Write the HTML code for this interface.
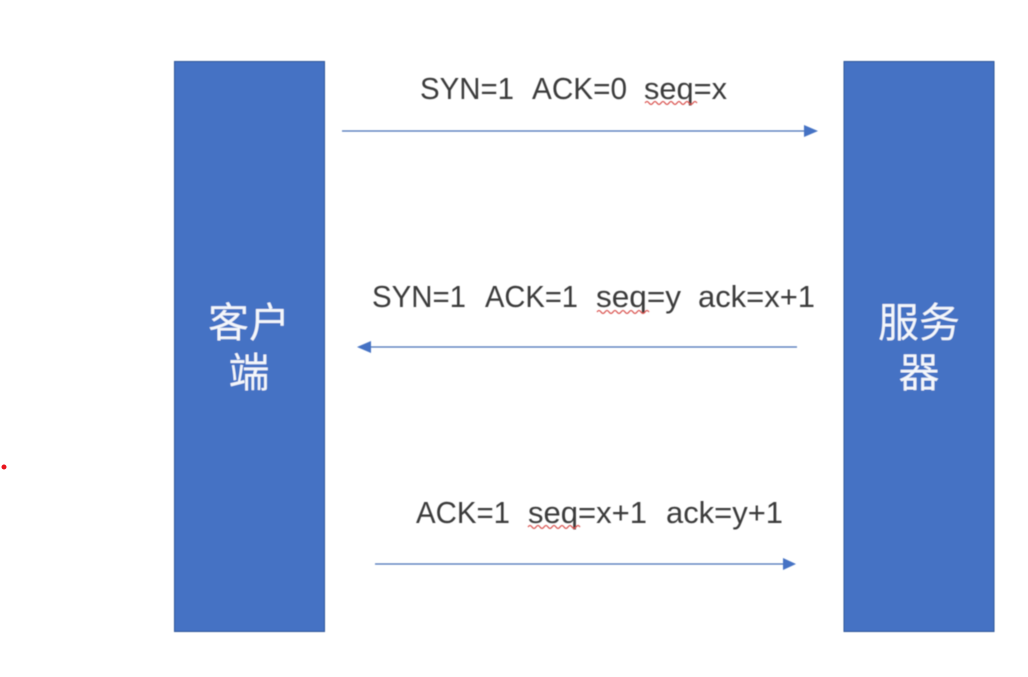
<!DOCTYPE html>
<html>
<head>
<meta charset="utf-8">
<style>
html,body{margin:0;padding:0;background:#fff;width:1028px;height:677px;overflow:hidden}
svg{display:block}
text{font-family:"Liberation Sans","Noto Sans CJK SC",sans-serif}
.l{font-size:30.500px;fill:#3a3a3a}
.c{font-size:41px;fill:#f4f7fb;font-family:"Noto Sans CJK SC","WenQuanYi Zen Hei",sans-serif;font-weight:400}
</style>
</head>
<body>
<svg width="1028" height="677" viewBox="0 0 1028 677" xmlns="http://www.w3.org/2000/svg">
<defs><filter id="b" x="-5%" y="-5%" width="110%" height="110%"><feGaussianBlur stdDeviation="0.450"/></filter></defs>
<rect width="1028" height="677" fill="#fff"/>
<g filter="url(#b)">
<rect x="174.500" y="61.500" width="150" height="570" fill="#4472c4" stroke="#2f5597" stroke-width="1"/>
<rect x="844" y="61.500" width="150" height="570" fill="#4472c4" stroke="#2f5597" stroke-width="1"/>
<text class="c" x="249" y="337" text-anchor="middle">客户</text>
<text class="c" x="249" y="387" text-anchor="middle">端</text>
<text class="c" x="919" y="337" text-anchor="middle">服务</text>
<text class="c" x="919" y="387" text-anchor="middle">器</text>

<text class="l" x="420" y="99" textLength="94" lengthAdjust="spacingAndGlyphs">SYN=1</text>
<text class="l" x="532" y="99" textLength="95" lengthAdjust="spacingAndGlyphs">ACK=0</text>
<text class="l" x="644" y="99" textLength="83" lengthAdjust="spacingAndGlyphs">seq=x</text>

<text class="l" x="372" y="307" textLength="94" lengthAdjust="spacingAndGlyphs">SYN=1</text>
<text class="l" x="485" y="307" textLength="93" lengthAdjust="spacingAndGlyphs">ACK=1</text>
<text class="l" x="596" y="307" textLength="85" lengthAdjust="spacingAndGlyphs">seq=y</text>
<text class="l" x="698" y="307" textLength="117" lengthAdjust="spacingAndGlyphs">ack=x+1</text>

<text class="l" x="416" y="523" textLength="94" lengthAdjust="spacingAndGlyphs">ACK=1</text>
<text class="l" x="528" y="523" textLength="119" lengthAdjust="spacingAndGlyphs">seq=x+1</text>
<text class="l" x="666" y="523" textLength="117" lengthAdjust="spacingAndGlyphs">ack=y+1</text>

<g fill="none" stroke="#d9534f" stroke-width="1.200">
<path d="M645 103q2 -3 4 0t4 0t4 0t4 0t4 0t4 0t4 0t4 0t4 0t4 0t4 0t4 0t4 0"/>
<path d="M597 312q2 -3 4 0t4 0t4 0t4 0t4 0t4 0t4 0t4 0t4 0t4 0t4 0t4 0t4 0"/>
<path d="M528 527q2 -3 4 0t4 0t4 0t4 0t4 0t4 0t4 0t4 0t4 0t4 0t4 0t4 0t4 0"/>
</g>

<g stroke="#4a72b8" stroke-width="1.300" fill="none">
<line x1="342" y1="131" x2="808" y2="131"/>
<line x1="797" y1="347" x2="368" y2="347"/>
<line x1="375" y1="564" x2="786" y2="564"/>
</g>
<g fill="#4472c4">
<polygon points="804,125 818,131 804,137"/>
<polygon points="371,341 357,347 371,353"/>
<polygon points="783,558 796,564 783,570"/>
</g>
</g>
<circle cx="4" cy="467" r="2.500" fill="#e8141c"/>
</svg>
</body>
</html>
